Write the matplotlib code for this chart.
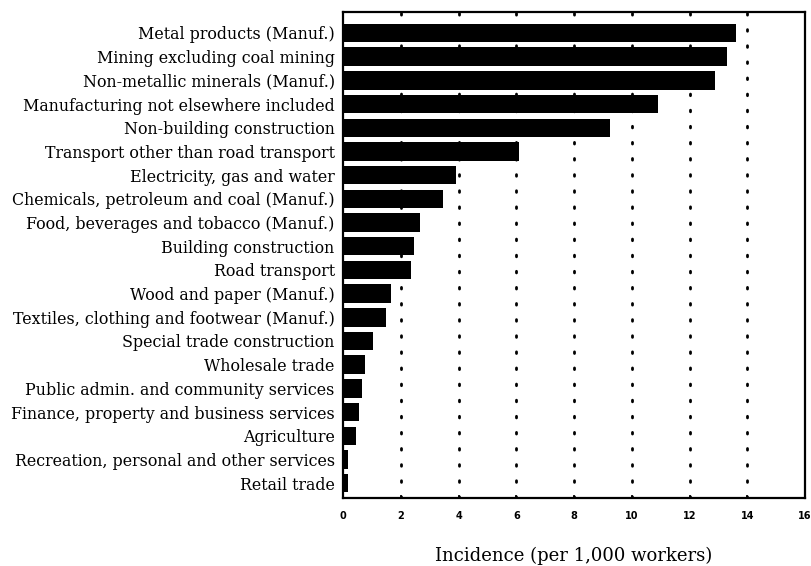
import matplotlib
matplotlib.use("Agg")
import matplotlib.pyplot as plt

categories = [
    "Metal products (Manuf.)",
    "Mining excluding coal mining",
    "Non-metallic minerals (Manuf.)",
    "Manufacturing not elsewhere included",
    "Non-building construction",
    "Transport other than road transport",
    "Electricity, gas and water",
    "Chemicals, petroleum and coal (Manuf.)",
    "Food, beverages and tobacco (Manuf.)",
    "Building construction",
    "Road transport",
    "Wood and paper (Manuf.)",
    "Textiles, clothing and footwear (Manuf.)",
    "Special trade construction",
    "Wholesale trade",
    "Public admin. and community services",
    "Finance, property and business services",
    "Agriculture",
    "Recreation, personal and other services",
    "Retail trade",
]
values = [13.6, 13.3, 12.9, 10.9, 9.25, 6.1, 3.9, 3.45, 2.65, 2.45,
          2.35, 1.65, 1.5, 1.05, 0.75, 0.65, 0.55, 0.45, 0.17, 0.17]
xticks = [0, 2, 4, 6, 8, 10, 12, 14, 16]
xlabel = "Incidence (per 1,000 workers)"

fig = plt.figure(figsize=(8.11, 5.66), dpi=100)
ax = fig.add_axes([0.423, 0.120, 0.5696, 0.859])

pos = list(range(len(categories)))
ax.barh(pos, values, height=0.78, color="black", zorder=3)

ax.set_xlim(0, 16)
ax.set_ylim(len(categories) - 1 + 0.63, -0.89)

for x in xticks[1:-1]:
    ax.axvline(x, color="black", linewidth=2.0, linestyle=(0, (0.6, 5.2)),
               zorder=1, dash_capstyle="round")

ax.set_yticks(pos)
ax.set_yticklabels(categories, fontsize=11.4, family="DejaVu Serif")
ax.tick_params(axis="y", length=0, pad=6)
ax.set_xticks(xticks)
ax.set_xticklabels([str(t) for t in xticks], fontsize=7, fontweight="bold",
                   family="DejaVu Sans")
ax.tick_params(axis="x", direction="in", length=2, width=1.2, pad=9)

for s in ax.spines.values():
    s.set_linewidth(1.6)

ax.set_xlabel(xlabel, fontsize=13, family="DejaVu Serif", labelpad=19)

fig.savefig("out.png", dpi=100)
